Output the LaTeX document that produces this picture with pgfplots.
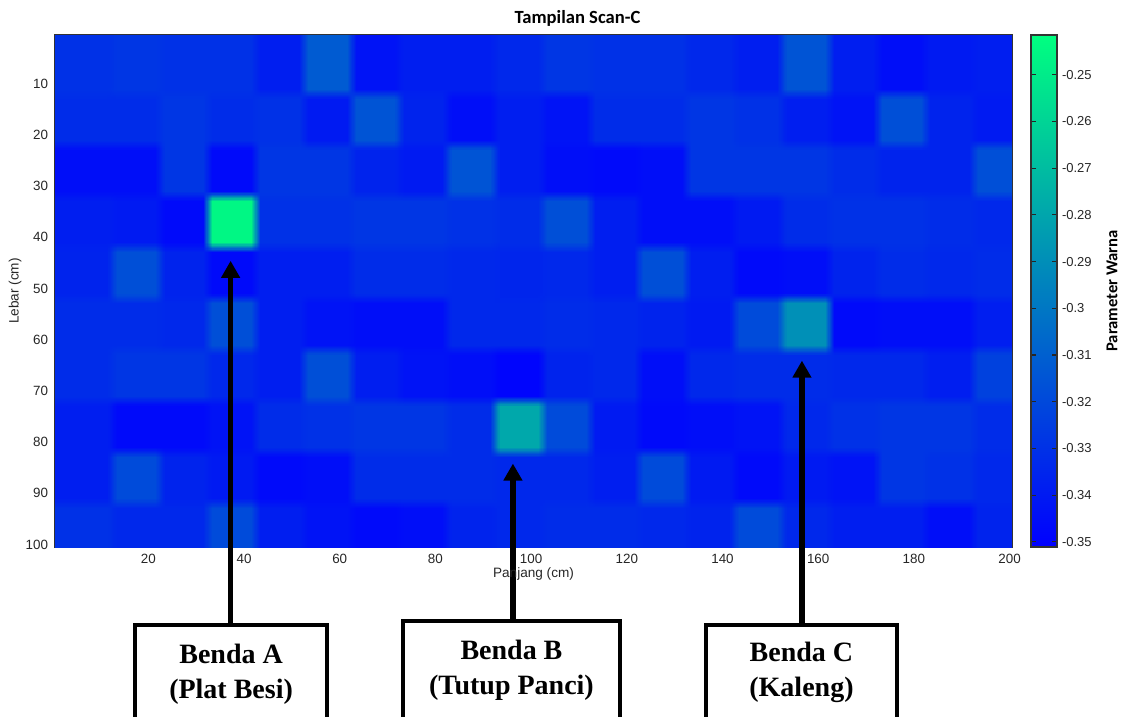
\documentclass[border=0pt]{standalone}
\usepackage{pgfplots}
\pgfplotsset{compat=1.18}
\usepgfplotslibrary{patchplots}
\usepackage{fontspec}
\setmainfont{Liberation Sans}
\newfontfamily\carlito{Carlito}
\newfontfamily\timesf{Liberation Serif}
\usetikzlibrary{arrows.meta}
\pgfplotsset{colormap={winter}{rgb255=(0,0,255) rgb255=(0,255,128)}}
\begin{document}
\begin{tikzpicture}
\path[use as bounding box] (-27.5bp,-85bp) rectangle (533bp,273.5bp);
\begin{axis}[
  at={(0,0)}, anchor=south west,
  scale only axis, width=478.5bp, height=256bp,
  xmin=0.5, xmax=200.5, ymin=0.5, ymax=100.5,
  y dir=reverse,
  xtick={20,40,60,80,100,120,140,160,180,200},
  ytick={10,20,30,40,50,60,70,80,90,100},
  tick align=inside, major tick length=3.5bp,
  axis line style={black!80, line width=0.6bp},
  every tick/.style={black!85, line width=0.6bp},
  tick label style={font=\fontsize{6.7bp}{7bp}\selectfont, text=black!85},
  /pgf/number format/assume math mode=true,
  xlabel={Panjang (cm)}, ylabel={Lebar (cm)},
  label style={font=\fontsize{6.8bp}{8bp}\selectfont, text=black!85},
  xlabel style={at={(axis description cs:0.5,0)}, anchor=center, yshift=-13.5bp},
  ylabel style={at={(axis description cs:0,0.5)}, anchor=center, yshift=20bp},
  title={Tampilan Scan-C},
  title style={font=\carlito\bfseries\fontsize{9.3bp}{11bp}\selectfont, at={(axis description cs:0.5,1)}, anchor=center, xshift=22bp, yshift=2.25bp},
  colormap name=winter,
  point meta min=-0.3511, point meta max=-0.2415,
  colorbar,
  colorbar style={
    at={(parent axis.north east)}, anchor=north west, xshift=1bp,
    scale only axis, width=13bp, height=256bp,
    ytick={-0.35,-0.34,-0.33,-0.32,-0.31,-0.3,-0.29,-0.28,-0.27,-0.26,-0.25},
    ytick pos=both, yticklabel pos=right, ytick align=inside,
    major tick length=2.7bp,
    axis line style={black!80, line width=0.6bp},
    every tick/.style={black!85, line width=0.6bp},
    /pgf/number format/assume math mode=true,
    yticklabel style={font=\fontsize{6.5bp}{7bp}\selectfont, text=black!85, xshift=-1bp,
      /pgf/number format/fixed, /pgf/number format/precision=2},
    ylabel={Parameter Warna},
    ylabel style={font=\carlito\bfseries\fontsize{8.3bp}{10bp}\selectfont, at={(axis description cs:1,0.5)}, anchor=center, yshift=-27.5bp},
  },
  clip=false,
]
\addplot[surf, shader=interp, patch type=bilinear, mesh/cols=40, point meta=explicit] table[x=x,y=y,meta=v] {
x y v
0.5 0.5 -0.330
11.5 0.5 -0.330
13.5 0.5 -0.328
21.5 0.5 -0.328
23.5 0.5 -0.330
31.5 0.5 -0.330
33.5 0.5 -0.330
41.5 0.5 -0.330
43.5 0.5 -0.338
51.5 0.5 -0.338
53.5 0.5 -0.312
61.5 0.5 -0.312
63.5 0.5 -0.343
71.5 0.5 -0.343
73.5 0.5 -0.338
81.5 0.5 -0.338
83.5 0.5 -0.338
91.5 0.5 -0.338
93.5 0.5 -0.334
101.5 0.5 -0.334
103.5 0.5 -0.328
111.5 0.5 -0.328
113.5 0.5 -0.330
121.5 0.5 -0.330
123.5 0.5 -0.330
131.5 0.5 -0.330
133.5 0.5 -0.334
141.5 0.5 -0.334
143.5 0.5 -0.338
151.5 0.5 -0.338
153.5 0.5 -0.315
161.5 0.5 -0.315
163.5 0.5 -0.338
171.5 0.5 -0.338
173.5 0.5 -0.345
181.5 0.5 -0.345
183.5 0.5 -0.340
191.5 0.5 -0.340
193.5 0.5 -0.338
200.5 0.5 -0.338
0.5 11 -0.330
11.5 11 -0.330
13.5 11 -0.328
21.5 11 -0.328
23.5 11 -0.330
31.5 11 -0.330
33.5 11 -0.330
41.5 11 -0.330
43.5 11 -0.338
51.5 11 -0.338
53.5 11 -0.312
61.5 11 -0.312
63.5 11 -0.343
71.5 11 -0.343
73.5 11 -0.338
81.5 11 -0.338
83.5 11 -0.338
91.5 11 -0.338
93.5 11 -0.334
101.5 11 -0.334
103.5 11 -0.328
111.5 11 -0.328
113.5 11 -0.330
121.5 11 -0.330
123.5 11 -0.330
131.5 11 -0.330
133.5 11 -0.334
141.5 11 -0.334
143.5 11 -0.338
151.5 11 -0.338
153.5 11 -0.315
161.5 11 -0.315
163.5 11 -0.338
171.5 11 -0.338
173.5 11 -0.345
181.5 11 -0.345
183.5 11 -0.340
191.5 11 -0.340
193.5 11 -0.338
200.5 11 -0.338
0.5 13 -0.332
11.5 13 -0.332
13.5 13 -0.332
21.5 13 -0.332
23.5 13 -0.328
31.5 13 -0.328
33.5 13 -0.332
41.5 13 -0.332
43.5 13 -0.330
51.5 13 -0.330
53.5 13 -0.340
61.5 13 -0.340
63.5 13 -0.315
71.5 13 -0.315
73.5 13 -0.336
81.5 13 -0.336
83.5 13 -0.345
91.5 13 -0.345
93.5 13 -0.338
101.5 13 -0.338
103.5 13 -0.343
111.5 13 -0.343
113.5 13 -0.332
121.5 13 -0.332
123.5 13 -0.332
131.5 13 -0.332
133.5 13 -0.328
141.5 13 -0.328
143.5 13 -0.330
151.5 13 -0.330
153.5 13 -0.338
161.5 13 -0.338
163.5 13 -0.343
171.5 13 -0.343
173.5 13 -0.317
181.5 13 -0.317
183.5 13 -0.336
191.5 13 -0.336
193.5 13 -0.340
200.5 13 -0.340
0.5 21 -0.332
11.5 21 -0.332
13.5 21 -0.332
21.5 21 -0.332
23.5 21 -0.328
31.5 21 -0.328
33.5 21 -0.332
41.5 21 -0.332
43.5 21 -0.330
51.5 21 -0.330
53.5 21 -0.340
61.5 21 -0.340
63.5 21 -0.315
71.5 21 -0.315
73.5 21 -0.336
81.5 21 -0.336
83.5 21 -0.345
91.5 21 -0.345
93.5 21 -0.338
101.5 21 -0.338
103.5 21 -0.343
111.5 21 -0.343
113.5 21 -0.332
121.5 21 -0.332
123.5 21 -0.332
131.5 21 -0.332
133.5 21 -0.328
141.5 21 -0.328
143.5 21 -0.330
151.5 21 -0.330
153.5 21 -0.338
161.5 21 -0.338
163.5 21 -0.343
171.5 21 -0.343
173.5 21 -0.317
181.5 21 -0.317
183.5 21 -0.336
191.5 21 -0.336
193.5 21 -0.340
200.5 21 -0.340
0.5 23 -0.345
11.5 23 -0.345
13.5 23 -0.345
21.5 23 -0.345
23.5 23 -0.328
31.5 23 -0.328
33.5 23 -0.347
41.5 23 -0.347
43.5 23 -0.328
51.5 23 -0.328
53.5 23 -0.328
61.5 23 -0.328
63.5 23 -0.336
71.5 23 -0.336
73.5 23 -0.340
81.5 23 -0.340
83.5 23 -0.315
91.5 23 -0.315
93.5 23 -0.338
101.5 23 -0.338
103.5 23 -0.345
111.5 23 -0.345
113.5 23 -0.347
121.5 23 -0.347
123.5 23 -0.345
131.5 23 -0.345
133.5 23 -0.328
141.5 23 -0.328
143.5 23 -0.328
151.5 23 -0.328
153.5 23 -0.328
161.5 23 -0.328
163.5 23 -0.332
171.5 23 -0.332
173.5 23 -0.336
181.5 23 -0.336
183.5 23 -0.336
191.5 23 -0.336
193.5 23 -0.317
200.5 23 -0.317
0.5 31 -0.345
11.5 31 -0.345
13.5 31 -0.345
21.5 31 -0.345
23.5 31 -0.328
31.5 31 -0.328
33.5 31 -0.347
41.5 31 -0.347
43.5 31 -0.328
51.5 31 -0.328
53.5 31 -0.328
61.5 31 -0.328
63.5 31 -0.336
71.5 31 -0.336
73.5 31 -0.340
81.5 31 -0.340
83.5 31 -0.315
91.5 31 -0.315
93.5 31 -0.338
101.5 31 -0.338
103.5 31 -0.345
111.5 31 -0.345
113.5 31 -0.347
121.5 31 -0.347
123.5 31 -0.345
131.5 31 -0.345
133.5 31 -0.328
141.5 31 -0.328
143.5 31 -0.328
151.5 31 -0.328
153.5 31 -0.328
161.5 31 -0.328
163.5 31 -0.332
171.5 31 -0.332
173.5 31 -0.336
181.5 31 -0.336
183.5 31 -0.336
191.5 31 -0.336
193.5 31 -0.317
200.5 31 -0.317
0.5 33 -0.338
11.5 33 -0.338
13.5 33 -0.340
21.5 33 -0.340
23.5 33 -0.347
31.5 33 -0.347
33.5 33 -0.245
41.5 33 -0.245
43.5 33 -0.330
51.5 33 -0.330
53.5 33 -0.330
61.5 33 -0.330
63.5 33 -0.328
71.5 33 -0.328
73.5 33 -0.328
81.5 33 -0.328
83.5 33 -0.330
91.5 33 -0.330
93.5 33 -0.332
101.5 33 -0.332
103.5 33 -0.317
111.5 33 -0.317
113.5 33 -0.338
121.5 33 -0.338
123.5 33 -0.345
131.5 33 -0.345
133.5 33 -0.345
141.5 33 -0.345
143.5 33 -0.340
151.5 33 -0.340
153.5 33 -0.332
161.5 33 -0.332
163.5 33 -0.330
171.5 33 -0.330
173.5 33 -0.330
181.5 33 -0.330
183.5 33 -0.332
191.5 33 -0.332
193.5 33 -0.334
200.5 33 -0.334
0.5 41 -0.338
11.5 41 -0.338
13.5 41 -0.340
21.5 41 -0.340
23.5 41 -0.347
31.5 41 -0.347
33.5 41 -0.245
41.5 41 -0.245
43.5 41 -0.330
51.5 41 -0.330
53.5 41 -0.330
61.5 41 -0.330
63.5 41 -0.328
71.5 41 -0.328
73.5 41 -0.328
81.5 41 -0.328
83.5 41 -0.330
91.5 41 -0.330
93.5 41 -0.332
101.5 41 -0.332
103.5 41 -0.317
111.5 41 -0.317
113.5 41 -0.338
121.5 41 -0.338
123.5 41 -0.345
131.5 41 -0.345
133.5 41 -0.345
141.5 41 -0.345
143.5 41 -0.340
151.5 41 -0.340
153.5 41 -0.332
161.5 41 -0.332
163.5 41 -0.330
171.5 41 -0.330
173.5 41 -0.330
181.5 41 -0.330
183.5 41 -0.332
191.5 41 -0.332
193.5 41 -0.334
200.5 41 -0.334
0.5 43 -0.336
11.5 43 -0.336
13.5 43 -0.317
21.5 43 -0.317
23.5 43 -0.336
31.5 43 -0.336
33.5 43 -0.347
41.5 43 -0.347
43.5 43 -0.338
51.5 43 -0.338
53.5 43 -0.338
61.5 43 -0.338
63.5 43 -0.332
71.5 43 -0.332
73.5 43 -0.332
81.5 43 -0.332
83.5 43 -0.334
91.5 43 -0.334
93.5 43 -0.335
101.5 43 -0.335
103.5 43 -0.334
111.5 43 -0.334
113.5 43 -0.338
121.5 43 -0.338
123.5 43 -0.317
131.5 43 -0.317
133.5 43 -0.338
141.5 43 -0.338
143.5 43 -0.347
151.5 43 -0.347
153.5 43 -0.345
161.5 43 -0.345
163.5 43 -0.336
171.5 43 -0.336
173.5 43 -0.332
181.5 43 -0.332
183.5 43 -0.334
191.5 43 -0.334
193.5 43 -0.332
200.5 43 -0.332
0.5 51 -0.336
11.5 51 -0.336
13.5 51 -0.317
21.5 51 -0.317
23.5 51 -0.336
31.5 51 -0.336
33.5 51 -0.347
41.5 51 -0.347
43.5 51 -0.338
51.5 51 -0.338
53.5 51 -0.338
61.5 51 -0.338
63.5 51 -0.332
71.5 51 -0.332
73.5 51 -0.332
81.5 51 -0.332
83.5 51 -0.334
91.5 51 -0.334
93.5 51 -0.335
101.5 51 -0.335
103.5 51 -0.334
111.5 51 -0.334
113.5 51 -0.338
121.5 51 -0.338
123.5 51 -0.317
131.5 51 -0.317
133.5 51 -0.338
141.5 51 -0.338
143.5 51 -0.347
151.5 51 -0.347
153.5 51 -0.345
161.5 51 -0.345
163.5 51 -0.336
171.5 51 -0.336
173.5 51 -0.332
181.5 51 -0.332
183.5 51 -0.334
191.5 51 -0.334
193.5 51 -0.332
200.5 51 -0.332
0.5 53 -0.332
11.5 53 -0.332
13.5 53 -0.332
21.5 53 -0.332
23.5 53 -0.334
31.5 53 -0.334
33.5 53 -0.317
41.5 53 -0.317
43.5 53 -0.338
51.5 53 -0.338
53.5 53 -0.343
61.5 53 -0.343
63.5 53 -0.345
71.5 53 -0.345
73.5 53 -0.345
81.5 53 -0.345
83.5 53 -0.334
91.5 53 -0.334
93.5 53 -0.334
101.5 53 -0.334
103.5 53 -0.332
111.5 53 -0.332
113.5 53 -0.334
121.5 53 -0.334
123.5 53 -0.336
131.5 53 -0.336
133.5 53 -0.340
141.5 53 -0.340
143.5 53 -0.319
151.5 53 -0.319
153.5 53 -0.289
161.5 53 -0.289
163.5 53 -0.347
171.5 53 -0.347
173.5 53 -0.345
181.5 53 -0.345
183.5 53 -0.345
191.5 53 -0.345
193.5 53 -0.338
200.5 53 -0.338
0.5 61 -0.332
11.5 61 -0.332
13.5 61 -0.332
21.5 61 -0.332
23.5 61 -0.334
31.5 61 -0.334
33.5 61 -0.317
41.5 61 -0.317
43.5 61 -0.338
51.5 61 -0.338
53.5 61 -0.343
61.5 61 -0.343
63.5 61 -0.345
71.5 61 -0.345
73.5 61 -0.345
81.5 61 -0.345
83.5 61 -0.334
91.5 61 -0.334
93.5 61 -0.334
101.5 61 -0.334
103.5 61 -0.332
111.5 61 -0.332
113.5 61 -0.334
121.5 61 -0.334
123.5 61 -0.336
131.5 61 -0.336
133.5 61 -0.340
141.5 61 -0.340
143.5 61 -0.319
151.5 61 -0.319
153.5 61 -0.289
161.5 61 -0.289
163.5 61 -0.347
171.5 61 -0.347
173.5 61 -0.345
181.5 61 -0.345
183.5 61 -0.345
191.5 61 -0.345
193.5 61 -0.338
200.5 61 -0.338
0.5 63 -0.332
11.5 63 -0.332
13.5 63 -0.328
21.5 63 -0.328
23.5 63 -0.328
31.5 63 -0.328
33.5 63 -0.334
41.5 63 -0.334
43.5 63 -0.338
51.5 63 -0.338
53.5 63 -0.317
61.5 63 -0.317
63.5 63 -0.338
71.5 63 -0.338
73.5 63 -0.343
81.5 63 -0.343
83.5 63 -0.345
91.5 63 -0.345
93.5 63 -0.349
101.5 63 -0.349
103.5 63 -0.336
111.5 63 -0.336
113.5 63 -0.334
121.5 63 -0.334
123.5 63 -0.345
131.5 63 -0.345
133.5 63 -0.334
141.5 63 -0.334
143.5 63 -0.332
151.5 63 -0.332
153.5 63 -0.332
161.5 63 -0.332
163.5 63 -0.334
171.5 63 -0.334
173.5 63 -0.334
181.5 63 -0.334
183.5 63 -0.338
191.5 63 -0.338
193.5 63 -0.323
200.5 63 -0.323
0.5 71 -0.332
11.5 71 -0.332
13.5 71 -0.328
21.5 71 -0.328
23.5 71 -0.328
31.5 71 -0.328
33.5 71 -0.334
41.5 71 -0.334
43.5 71 -0.338
51.5 71 -0.338
53.5 71 -0.317
61.5 71 -0.317
63.5 71 -0.338
71.5 71 -0.338
73.5 71 -0.343
81.5 71 -0.343
83.5 71 -0.345
91.5 71 -0.345
93.5 71 -0.349
101.5 71 -0.349
103.5 71 -0.336
111.5 71 -0.336
113.5 71 -0.334
121.5 71 -0.334
123.5 71 -0.345
131.5 71 -0.345
133.5 71 -0.334
141.5 71 -0.334
143.5 71 -0.332
151.5 71 -0.332
153.5 71 -0.332
161.5 71 -0.332
163.5 71 -0.334
171.5 71 -0.334
173.5 71 -0.334
181.5 71 -0.334
183.5 71 -0.338
191.5 71 -0.338
193.5 71 -0.323
200.5 71 -0.323
0.5 73 -0.338
11.5 73 -0.338
13.5 73 -0.347
21.5 73 -0.347
23.5 73 -0.347
31.5 73 -0.347
33.5 73 -0.343
41.5 73 -0.343
43.5 73 -0.332
51.5 73 -0.332
53.5 73 -0.330
61.5 73 -0.330
63.5 73 -0.328
71.5 73 -0.328
73.5 73 -0.328
81.5 73 -0.328
83.5 73 -0.332
91.5 73 -0.332
93.5 73 -0.279
101.5 73 -0.279
103.5 73 -0.319
111.5 73 -0.319
113.5 73 -0.340
121.5 73 -0.340
123.5 73 -0.347
131.5 73 -0.347
133.5 73 -0.345
141.5 73 -0.345
143.5 73 -0.343
151.5 73 -0.343
153.5 73 -0.334
161.5 73 -0.334
163.5 73 -0.330
171.5 73 -0.330
173.5 73 -0.328
181.5 73 -0.328
183.5 73 -0.328
191.5 73 -0.328
193.5 73 -0.332
200.5 73 -0.332
0.5 81 -0.338
11.5 81 -0.338
13.5 81 -0.347
21.5 81 -0.347
23.5 81 -0.347
31.5 81 -0.347
33.5 81 -0.343
41.5 81 -0.343
43.5 81 -0.332
51.5 81 -0.332
53.5 81 -0.330
61.5 81 -0.330
63.5 81 -0.328
71.5 81 -0.328
73.5 81 -0.328
81.5 81 -0.328
83.5 81 -0.332
91.5 81 -0.332
93.5 81 -0.279
101.5 81 -0.279
103.5 81 -0.319
111.5 81 -0.319
113.5 81 -0.340
121.5 81 -0.340
123.5 81 -0.347
131.5 81 -0.347
133.5 81 -0.345
141.5 81 -0.345
143.5 81 -0.343
151.5 81 -0.343
153.5 81 -0.334
161.5 81 -0.334
163.5 81 -0.330
171.5 81 -0.330
173.5 81 -0.328
181.5 81 -0.328
183.5 81 -0.328
191.5 81 -0.328
193.5 81 -0.332
200.5 81 -0.332
0.5 83 -0.338
11.5 83 -0.338
13.5 83 -0.319
21.5 83 -0.319
23.5 83 -0.336
31.5 83 -0.336
33.5 83 -0.340
41.5 83 -0.340
43.5 83 -0.347
51.5 83 -0.347
53.5 83 -0.345
61.5 83 -0.345
63.5 83 -0.332
71.5 83 -0.332
73.5 83 -0.332
81.5 83 -0.332
83.5 83 -0.332
91.5 83 -0.332
93.5 83 -0.334
101.5 83 -0.334
103.5 83 -0.334
111.5 83 -0.334
113.5 83 -0.338
121.5 83 -0.338
123.5 83 -0.319
131.5 83 -0.319
133.5 83 -0.340
141.5 83 -0.340
143.5 83 -0.347
151.5 83 -0.347
153.5 83 -0.340
161.5 83 -0.340
163.5 83 -0.343
171.5 83 -0.343
173.5 83 -0.328
181.5 83 -0.328
183.5 83 -0.330
191.5 83 -0.330
193.5 83 -0.334
200.5 83 -0.334
0.5 91 -0.338
11.5 91 -0.338
13.5 91 -0.319
21.5 91 -0.319
23.5 91 -0.336
31.5 91 -0.336
33.5 91 -0.340
41.5 91 -0.340
43.5 91 -0.347
51.5 91 -0.347
53.5 91 -0.345
61.5 91 -0.345
63.5 91 -0.332
71.5 91 -0.332
73.5 91 -0.332
81.5 91 -0.332
83.5 91 -0.332
91.5 91 -0.332
93.5 91 -0.334
101.5 91 -0.334
103.5 91 -0.334
111.5 91 -0.334
113.5 91 -0.338
121.5 91 -0.338
123.5 91 -0.319
131.5 91 -0.319
133.5 91 -0.340
141.5 91 -0.340
143.5 91 -0.347
151.5 91 -0.347
153.5 91 -0.340
161.5 91 -0.340
163.5 91 -0.343
171.5 91 -0.343
173.5 91 -0.328
181.5 91 -0.328
183.5 91 -0.330
191.5 91 -0.330
193.5 91 -0.334
200.5 91 -0.334
0.5 93 -0.330
11.5 93 -0.330
13.5 93 -0.334
21.5 93 -0.334
23.5 93 -0.334
31.5 93 -0.334
33.5 93 -0.319
41.5 93 -0.319
43.5 93 -0.338
51.5 93 -0.338
53.5 93 -0.343
61.5 93 -0.343
63.5 93 -0.347
71.5 93 -0.347
73.5 93 -0.345
81.5 93 -0.345
83.5 93 -0.336
91.5 93 -0.336
93.5 93 -0.334
101.5 93 -0.334
103.5 93 -0.332
111.5 93 -0.332
113.5 93 -0.332
121.5 93 -0.332
123.5 93 -0.334
131.5 93 -0.334
133.5 93 -0.336
141.5 93 -0.336
143.5 93 -0.319
151.5 93 -0.319
153.5 93 -0.334
161.5 93 -0.334
163.5 93 -0.338
171.5 93 -0.338
173.5 93 -0.338
181.5 93 -0.338
183.5 93 -0.345
191.5 93 -0.345
193.5 93 -0.336
200.5 93 -0.336
0.5 100.5 -0.330
11.5 100.5 -0.330
13.5 100.5 -0.334
21.5 100.5 -0.334
23.5 100.5 -0.334
31.5 100.5 -0.334
33.5 100.5 -0.319
41.5 100.5 -0.319
43.5 100.5 -0.338
51.5 100.5 -0.338
53.5 100.5 -0.343
61.5 100.5 -0.343
63.5 100.5 -0.347
71.5 100.5 -0.347
73.5 100.5 -0.345
81.5 100.5 -0.345
83.5 100.5 -0.336
91.5 100.5 -0.336
93.5 100.5 -0.334
101.5 100.5 -0.334
103.5 100.5 -0.332
111.5 100.5 -0.332
113.5 100.5 -0.332
121.5 100.5 -0.332
123.5 100.5 -0.334
131.5 100.5 -0.334
133.5 100.5 -0.336
141.5 100.5 -0.336
143.5 100.5 -0.319
151.5 100.5 -0.319
153.5 100.5 -0.334
161.5 100.5 -0.334
163.5 100.5 -0.338
171.5 100.5 -0.338
173.5 100.5 -0.338
181.5 100.5 -0.338
183.5 100.5 -0.345
191.5 100.5 -0.345
193.5 100.5 -0.336
200.5 100.5 -0.336
};
% annotations: boxes and arrows
\draw[line width=2bp] (axis cs:17.2,140) -- (axis cs:17.2,115.7) -- (axis cs:57.3,115.7) -- (axis cs:57.3,140);
\draw[line width=2bp] (axis cs:73.2,140) -- (axis cs:73.2,114.9) -- (axis cs:118.6,114.9) -- (axis cs:118.6,140);
\draw[line width=2bp] (axis cs:136.5,140) -- (axis cs:136.5,115.7) -- (axis cs:176.5,115.7) -- (axis cs:176.5,140);
\draw[line width=2.6bp, -{Triangle[width=9bp,length=8.5bp]}] (axis cs:37.2,115.7) -- (axis cs:37.2,44.6);
\draw[line width=2.6bp, -{Triangle[width=9bp,length=8.5bp]}] (axis cs:96.2,114.9) -- (axis cs:96.2,84.2);
\draw[line width=2.6bp, -{Triangle[width=9bp,length=8.5bp]}] (axis cs:156.6,115.7) -- (axis cs:156.6,64.1);
\node[font=\timesf\bfseries\fontsize{14bp}{17.5bp}\selectfont, align=center] at (axis cs:37.3,125.4) {Benda A\\(Plat Besi)};
\node[font=\timesf\bfseries\fontsize{14bp}{17.5bp}\selectfont, align=center] at (axis cs:95.9,124.5) {Benda B\\(Tutup Panci)};
\node[font=\timesf\bfseries\fontsize{14bp}{17.5bp}\selectfont, align=center] at (axis cs:156.5,125.0) {Benda C\\(Kaleng)};
\end{axis}
\end{tikzpicture}
\end{document}
